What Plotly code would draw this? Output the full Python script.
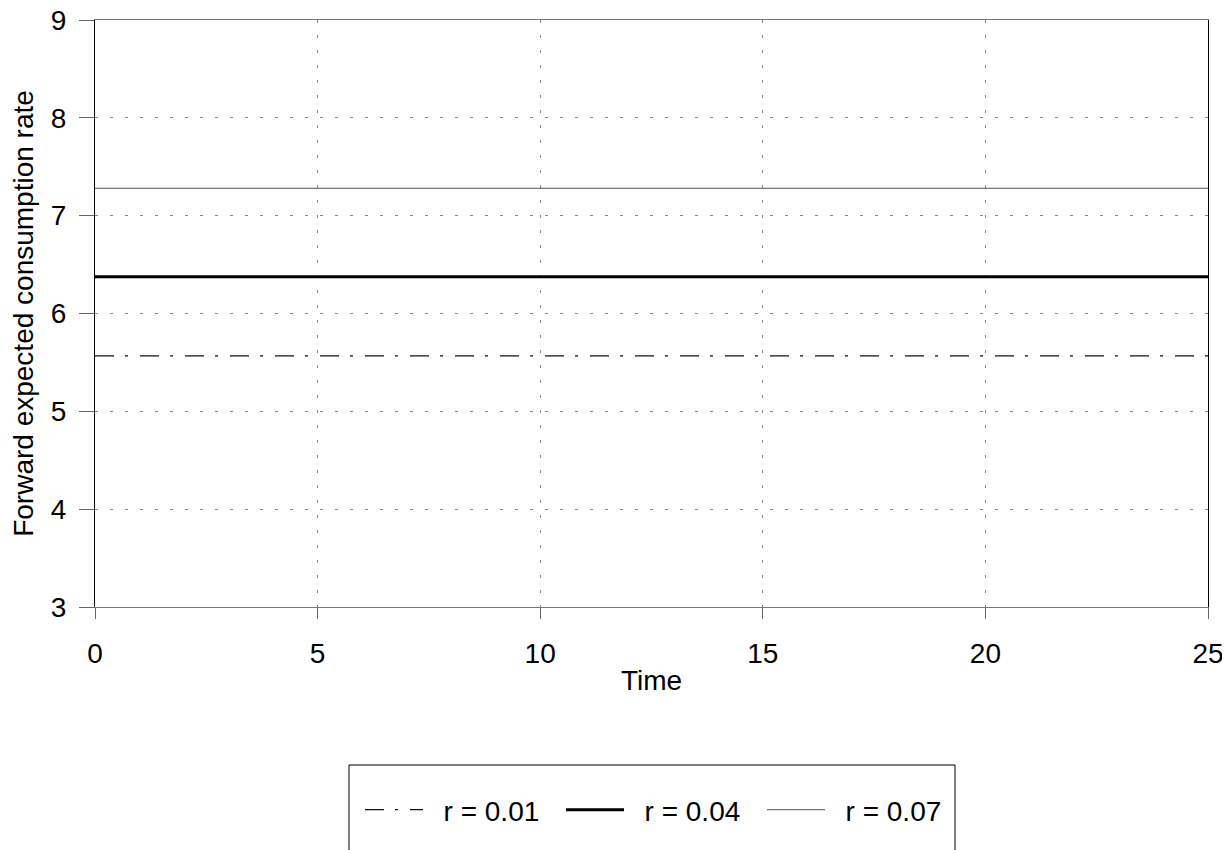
import plotly.graph_objects as go

time = [0, 25]
series_names = ["r = 0.01", "r = 0.04", "r = 0.07"]
r001 = [5.566, 5.566]
r004 = [6.376, 6.376]
r007 = [7.28, 7.28]

x_ticks = [0, 5, 10, 15, 20, 25]
y_ticks = [3, 4, 5, 6, 7, 8, 9]

FONT = "Liberation Sans, Arial, sans-serif"
W, H = 1230, 850
L, R, T, B = 87, 30, 12, 251
pw, ph = W - L - R, H - T - B
# screen positions of plot area (page has 8px body margin)
SX0, SY1 = L + 8, T + 8 + ph
PAD = "\u00a0\u00a0"


def px_x(x):
    return (x - SX0) / pw


def px_y(y):
    return (SY1 - y) / ph


fig = go.Figure()
fig.add_trace(go.Scatter(x=time, y=r001, mode="lines", name=PAD + series_names[0],
                         line=dict(color="#111111", width=1.2, dash="19px,11px,3px,12px")))
fig.add_trace(go.Scatter(x=time, y=r004, mode="lines", name=PAD + series_names[1],
                         line=dict(color="black", width=3)))
fig.add_trace(go.Scatter(x=time, y=r007, mode="lines", name=PAD + series_names[2],
                         line=dict(color="#555555", width=1)))

grid = dict(showgrid=True, gridcolor="#888888", gridwidth=1, griddash="3px,12px")

fig.update_layout(
    width=W, height=H,
    margin=dict(l=L, r=R, t=T, b=B, autoexpand=False),
    plot_bgcolor="white", paper_bgcolor="white",
    font=dict(family=FONT, size=28, color="black"),
    xaxis=dict(range=[0, 25], tickvals=x_ticks, ticks="outside", ticklen=11,
               tickcolor="#666666", showline=True, linecolor="#777777", linewidth=1,
               mirror=True, zeroline=False, automargin=False,
               tickfont=dict(size=28), ticklabeloverflow="allow",
               title=dict(text="Time", standoff=2, font=dict(size=28)),
               ticklabelstandoff=10, **grid),
    yaxis=dict(range=[3, 9], tickvals=y_ticks, ticks="outside", ticklen=15,
               tickcolor="#666666", showline=True, linecolor="black", linewidth=1,
               mirror=True, zeroline=False, automargin=False,
               tickfont=dict(size=28), ticklabelstandoff=7, ticklabeloverflow="allow",
               title=dict(text="Forward expected consumption rate", standoff=10,
                          font=dict(size=28)),
               **grid),
    xaxis2=dict(overlaying="x", matches="x", range=[0, 25], tickvals=x_ticks,
                ticks="inside", ticklen=10, tickcolor="black", showticklabels=False,
                showgrid=False, zeroline=False, showline=False, side="bottom"),
    yaxis2=dict(overlaying="y", matches="y", range=[3, 9], tickvals=y_ticks,
                ticks="inside", ticklen=15, tickcolor="black", showticklabels=False,
                showgrid=False, zeroline=False, showline=False, side="left"),
    showlegend=True,
    legend=dict(orientation="h", x=0.5 + 10 / pw, xanchor="center",
                y=px_y(810), yanchor="middle",
                font=dict(size=28), itemwidth=58, borderwidth=0,
                entrywidth=128, entrywidthmode="pixels",
                bgcolor="rgba(0,0,0,0)"),
    shapes=[dict(type="rect", xref="paper", yref="paper",
                 x0=px_x(349), x1=px_x(955),
                 y0=px_y(765), y1=px_y(880),
                 line=dict(color="black", width=1), fillcolor="rgba(0,0,0,0)",
                 layer="below")],
)

fig.write_html("out.html")
